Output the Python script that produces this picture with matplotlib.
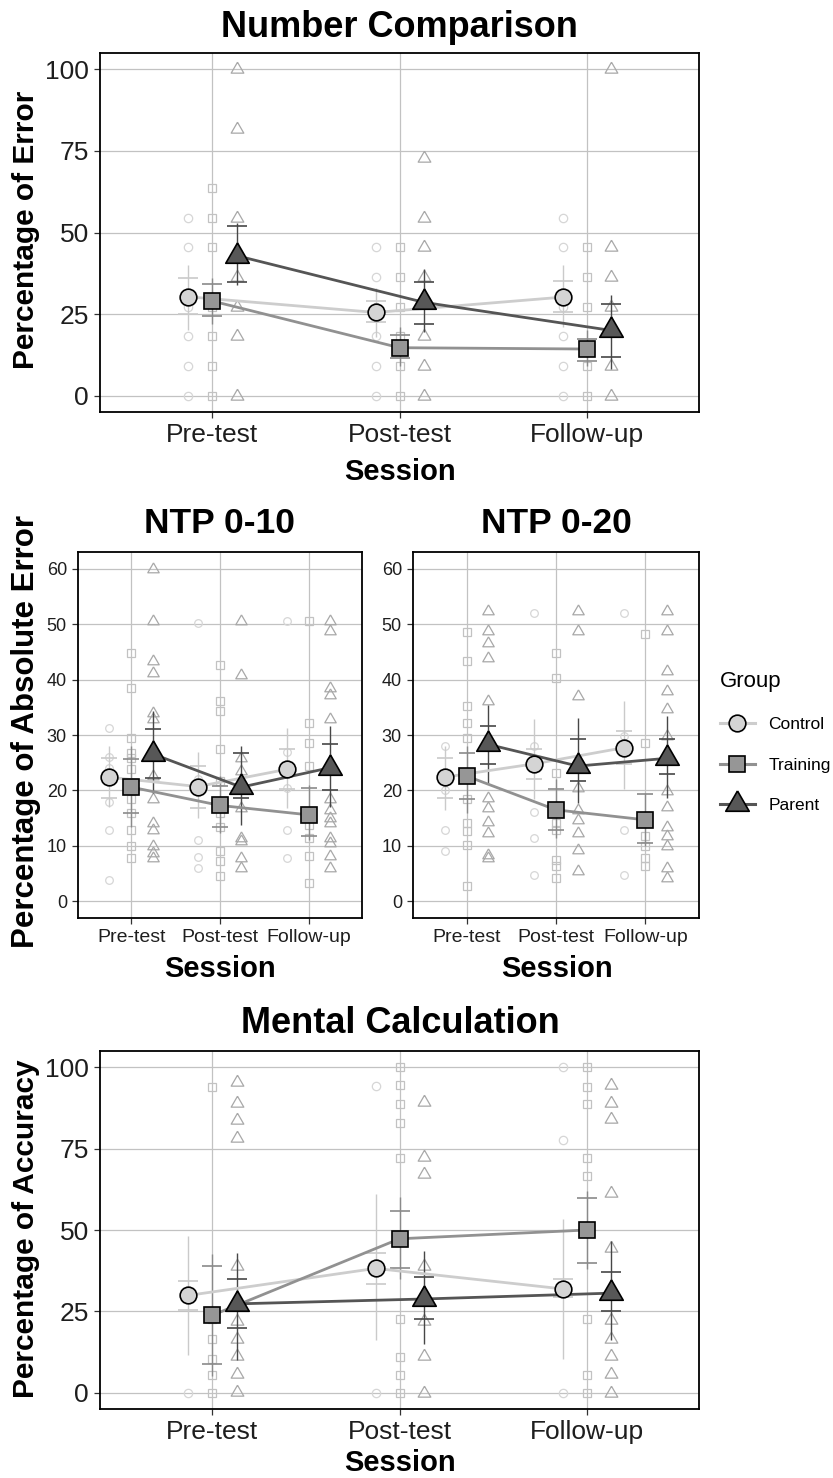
import matplotlib
matplotlib.use("Agg")
import matplotlib.pyplot as plt
from matplotlib.lines import Line2D
import numpy as np

plt.rcParams['font.family'] = ['Liberation Sans', 'DejaVu Sans']

SESSIONS = ["Pre-test", "Post-test", "Follow-up"]
GROUPS = ["Control", "Training", "Parent"]

# ---------------- Number Comparison (percentage of error) ----------------
NC_MEAN = {"Control": [30.3, 25.5, 30.2], "Training": [29.0, 14.7, 14.3], "Parent": [42.9, 28.6, 20.0]}
NC_CAP_LO = {"Control": [25.0, 22.5, 25.5], "Training": [24.5, 11.5, 10.7], "Parent": [34.7, 21.9, 11.7]}
NC_CAP_HI = {"Control": [36.0, 29.0, 35.2], "Training": [34.2, 18.5, 17.5], "Parent": [52.0, 34.9, 28.0]}
NC_BAR_LO = {"Control": [20.0, 18.0, 21.0], "Training": [22.0, 9.0, 9.0], "Parent": [34.0, 19.4, 8.2]}
NC_BAR_HI = {"Control": [40.0, 33.0, 40.0], "Training": [36.0, 21.0, 20.0], "Parent": [53.0, 38.8, 31.0]}
NC_RAW = {
    "Control": [[0, 9.1, 18.2, 27.3, 45.5, 54.5], [0, 9.1, 18.2, 27.3, 36.4, 45.5], [0, 9.1, 18.2, 27.3, 45.5, 54.5]],
    "Training": [[0, 9.1, 18.2, 27.3, 45.5, 54.5, 63.6], [0, 9.1, 18.2, 27.3, 36.4, 45.5], [0, 9.1, 27.3, 36.4, 45.5]],
    "Parent": [[0, 18.2, 27.3, 36.4, 54.5, 81.8, 100], [0, 9.1, 18.2, 36.4, 45.5, 54.5, 72.7], [0, 9.1, 27.3, 36.4, 45.5, 100]],
}

# ---------------- NTP 0-10 (percentage of absolute error) ----------------
N10_MEAN = {"Control": [22.4, 20.7, 23.8], "Training": [20.6, 17.3, 15.6], "Parent": [26.6, 20.6, 24.1]}
N10_CAP_LO = {"Control": [18.6, 16.8, 20.3], "Training": [16.0, 13.5, 11.7], "Parent": [22.3, 18.7, 20.0]}
N10_CAP_HI = {"Control": [25.9, 24.4, 27.5], "Training": [25.6, 20.8, 20.5], "Parent": [31.1, 26.8, 28.3]}
N10_BAR_LO = {"Control": [17.0, 15.0, 16.8], "Training": [13.5, 12.3, 11.0], "Parent": [19.6, 13.8, 17.1]}
N10_BAR_HI = {"Control": [28.0, 27.0, 31.3], "Training": [28.0, 22.6, 21.0], "Parent": [34.3, 28.0, 31.6]}
N10_RAW = {
    "Control": [[3.9, 12.9, 18.0, 24.0, 26.0, 31.3], [6.0, 8.0, 11.0, 22.0, 50.2], [7.8, 12.9, 20.5, 27.0, 50.5]],
    "Training": [[7.8, 9.9, 12.9, 16.0, 18.4, 23.8, 25.9, 26.8, 29.5, 38.5, 44.8],
                 [4.5, 7.2, 9.0, 13.5, 16.0, 21.7, 27.4, 34.3, 36.1, 42.7],
                 [3.3, 8.1, 11.4, 13.8, 24.4, 28.6, 32.2, 50.5]],
    "Parent": [[7.8, 8.7, 9.9, 12.9, 14.1, 18.4, 22.6, 32.8, 34.0, 41.2, 43.3, 50.5, 60.0],
               [6.0, 7.8, 10.8, 11.4, 16.8, 23.5, 25.9, 40.9, 50.5],
               [6.0, 8.1, 10.5, 11.4, 14.1, 15.0, 16.5, 18.4, 32.8, 37.3, 38.5, 48.7, 50.5]],
}

# ---------------- NTP 0-20 (percentage of absolute error) ----------------
N20_MEAN = {"Control": [22.4, 24.8, 27.7], "Training": [22.6, 16.5, 14.7], "Parent": [28.3, 24.4, 25.8]}
N20_CAP_LO = {"Control": [18.7, 22.0, 24.7], "Training": [18.4, 12.9, 10.5], "Parent": [24.7, 21.7, 23.0]}
N20_CAP_HI = {"Control": [25.9, 27.4, 30.7], "Training": [26.7, 20.2, 19.3], "Parent": [31.7, 29.3, 29.3]}
N20_BAR_LO = {"Control": [16.5, 18.4, 20.2], "Training": [16.0, 11.4, 9.9], "Parent": [21.1, 17.7, 18.7]}
N20_BAR_HI = {"Control": [28.0, 32.8, 36.1], "Training": [28.0, 22.0, 19.6], "Parent": [35.5, 33.1, 33.4]}
N20_RAW = {
    "Control": [[9.0, 12.9, 20.0, 28.0], [4.8, 11.4, 16.2, 28.0, 52.0], [4.8, 12.9, 29.8, 52.0]],
    "Training": [[2.7, 10.2, 12.6, 14.1, 18.4, 29.5, 32.2, 35.2, 43.3, 48.5],
                 [4.2, 6.3, 7.5, 12.9, 14.1, 23.2, 40.3, 44.8],
                 [6.3, 7.8, 9.9, 11.7, 14.1, 28.6, 48.2]],
    "Parent": [[7.8, 8.4, 12.3, 14.4, 16.8, 18.7, 36.1, 43.9, 46.6, 48.7, 52.3],
               [5.4, 9.3, 12.3, 14.7, 16.5, 20.5, 37.0, 48.7, 52.3],
               [4.2, 6.0, 9.9, 11.7, 13.5, 17.1, 19.9, 29.8, 34.6, 37.9, 41.5, 48.7, 52.3]],
}

# ---------------- Mental Calculation (percentage of accuracy) ----------------
MC_MEAN = {"Control": [29.9, 38.2, 31.9], "Training": [23.8, 47.3, 50.0], "Parent": [27.3, 28.8, 30.6]}
MC_CAP_LO = {"Control": [25.5, 33.4, 29.5], "Training": [8.7, 38.2, 39.9], "Parent": [20.0, 22.7, 25.1]}
MC_CAP_HI = {"Control": [34.2, 43.0, 35.0], "Training": [38.8, 55.9, 59.9], "Parent": [35.0, 35.5, 37.2]}
MC_BAR_LO = {"Control": [11.5, 16.1, 10.5], "Training": [5.0, 35.0, 38.0], "Parent": [10.0, 15.1, 16.1]}
MC_BAR_HI = {"Control": [48.2, 61.0, 53.3], "Training": [42.6, 60.0, 62.0], "Parent": [42.9, 43.6, 46.7]}
MC_RAW = {
    "Control": [[0, 30.0], [0, 94.3], [0, 77.8, 100]],
    "Training": [[0, 5.4, 10.5, 16.6, 22.7, 94.0],
                 [0, 5.4, 11.0, 22.7, 72.2, 83.0, 88.8, 94.6, 100],
                 [0, 5.4, 22.7, 66.6, 72.2, 88.8, 94.0, 100]],
    "Parent": [[0.3, 5.9, 11.2, 16.6, 22.0, 39.0, 78.3, 83.9, 89.0, 95.6],
               [0, 11.2, 22.0, 39.0, 67.2, 72.5, 89.2],
               [0, 5.9, 11.2, 16.6, 22.4, 44.6, 61.5, 84.0, 89.0, 94.6]],
}

# ---------------- styling ----------------
W, H = 833, 1478
TRI = [(0, 1), (0.866, -0.5), (-0.866, -0.5), (0, 1)]
MARK = {"Control": "o", "Training": "s", "Parent": TRI}
FILL = {"Control": "#d4d4d4", "Training": "#969696", "Parent": "#575757"}
LINE = {"Control": "#cdcdcd", "Training": "#919191", "Parent": "#555555"}
ERR = {"Control": "#cacaca", "Training": "#8a8a8a", "Parent": "#474747"}
RAW = {"Control": "#d6d6d6", "Training": "#c2c2c2", "Parent": "#a8a8a8"}
MS = {"Control": 12, "Training": 12, "Parent": 19.5}


def fx(px):
    return px / W


def fy(py):
    return 1 - py / H


def axes_rect(l, t, r, b):
    return [fx(l), fy(b), fx(r) - fx(l), fy(t) - fy(b)]


def draw_panel(ax, mean, cap_lo, cap_hi, bar_lo, bar_hi, raw, offs, ylim, yticks,
               ytick_size, xtick_size, cap_w, raw_ms):
    base = np.arange(1, len(SESSIONS) + 1)
    for g in GROUPS:
        xs = base + offs[g]
        for i in range(len(SESSIONS)):
            vals = np.asarray(raw[g][i], dtype=float)
            ax.plot(np.full(vals.size, xs[i]), vals, ls="none", marker=MARK[g],
                    mfc="none", mec=RAW[g], mew=0.9, ms=raw_ms[g], zorder=2)
    for g in GROUPS:
        xs = base + offs[g]
        m = np.asarray(mean[g])
        lo = m - np.asarray(bar_lo[g])
        hi = np.asarray(bar_hi[g]) - m
        ax.errorbar(xs, m, yerr=[lo, hi], fmt="none", ecolor=ERR[g], elinewidth=1.0,
                    capsize=0, zorder=3)
        for arr in (cap_lo[g], cap_hi[g]):
            ax.plot(xs, arr, ls="none", marker="_", ms=cap_w, mew=1.2, color=ERR[g], zorder=3)
    for g in GROUPS:
        xs = base + offs[g]
        ax.plot(xs, mean[g], color=LINE[g], lw=2.0, zorder=4, solid_capstyle="butt")
    for g in GROUPS:
        xs = base + offs[g]
        ax.plot(xs, mean[g], ls="none", marker=MARK[g], mfc=FILL[g], mec="black",
                mew=1.2, ms=MS[g], zorder=5)
    ax.set_xlim(0.4, 3.6)
    ax.set_ylim(*ylim)
    ax.set_xticks(base)
    ax.set_xticklabels(SESSIONS)
    ax.set_yticks(yticks)
    ax.grid(True, color="#c2c2c2", lw=0.9)
    ax.set_axisbelow(True)
    for s in ax.spines.values():
        s.set_color("black")
        s.set_linewidth(1.3)
    ax.tick_params(axis="both", length=4, width=0.9, color="#333333", labelcolor="#1e1e1e")
    ax.tick_params(axis="y", labelsize=ytick_size, pad=4)
    ax.tick_params(axis="x", labelsize=xtick_size, pad=4)


fig = plt.figure(figsize=(W / 100, H / 100), dpi=100)

wide_offs = {"Control": -0.128, "Training": 0.0, "Parent": 0.13}
narrow_offs_l = {"Control": -0.25, "Training": 0.0, "Parent": 0.24}
narrow_offs_r = {"Control": -0.244, "Training": 0.0, "Parent": 0.244}
wide_raw = {"Control": 6, "Training": 6, "Parent": 10.5}
narrow_raw = {"Control": 5.5, "Training": 6, "Parent": 9.5}

ax1 = fig.add_axes(axes_rect(100, 53, 699, 412))
draw_panel(ax1, NC_MEAN, NC_CAP_LO, NC_CAP_HI, NC_BAR_LO, NC_BAR_HI, NC_RAW, wide_offs,
           (-5, 105), [0, 25, 50, 75, 100], 19, 19, 14, wide_raw)

ax2 = fig.add_axes(axes_rect(78, 552, 362, 918))
draw_panel(ax2, N10_MEAN, N10_CAP_LO, N10_CAP_HI, N10_BAR_LO, N10_BAR_HI, N10_RAW, narrow_offs_l,
           (-3, 63), [0, 10, 20, 30, 40, 50, 60], 13, 14, 11, narrow_raw)

ax3 = fig.add_axes(axes_rect(413, 552, 699, 918))
draw_panel(ax3, N20_MEAN, N20_CAP_LO, N20_CAP_HI, N20_BAR_LO, N20_BAR_HI, N20_RAW, narrow_offs_r,
           (-3, 63), [0, 10, 20, 30, 40, 50, 60], 13, 14, 11, narrow_raw)

ax4 = fig.add_axes(axes_rect(100, 1051, 699, 1409))
draw_panel(ax4, MC_MEAN, MC_CAP_LO, MC_CAP_HI, MC_BAR_LO, MC_BAR_HI, MC_RAW, wide_offs,
           (-5, 105), [0, 25, 50, 75, 100], 19, 19, 14, wide_raw)

# titles
fig.text(fx(399), fy(37), "Number Comparison", ha="center", va="baseline", fontsize=26, fontweight="bold")
fig.text(fx(220), fy(533), "NTP 0-10", ha="center", va="baseline", fontsize=25.5, fontweight="bold")
fig.text(fx(556), fy(533), "NTP 0-20", ha="center", va="baseline", fontsize=25.5, fontweight="bold")
fig.text(fx(400), fy(1033), "Mental Calculation", ha="center", va="baseline", fontsize=26, fontweight="bold")

# axis labels
fig.text(fx(400), fy(480), "Session", ha="center", va="baseline", fontsize=21, fontweight="bold")
fig.text(fx(220), fy(977), "Session", ha="center", va="baseline", fontsize=21, fontweight="bold")
fig.text(fx(557), fy(977), "Session", ha="center", va="baseline", fontsize=21, fontweight="bold")
fig.text(fx(400), fy(1471), "Session", ha="center", va="baseline", fontsize=21, fontweight="bold")

fig.text(fx(26), fy(230), "Percentage of Error", rotation=90, ha="center", va="center",
         fontsize=21.5, fontweight="bold")
fig.text(fx(26), fy(731), "Percentage of Absolute Error", rotation=90, ha="center", va="center",
         fontsize=22.5, fontweight="bold")
fig.text(fx(26), fy(1229), "Percentage of Accuracy", rotation=90, ha="center", va="center",
         fontsize=21.5, fontweight="bold")

# legend
handles = [Line2D([], [], color=LINE[g], lw=2.2, marker=MARK[g], mfc=FILL[g], mec="black",
                  mew=1.2, ms=MS[g]) for g in GROUPS]
fig.legend(handles, GROUPS, title="Group", loc="center left",
           bbox_to_anchor=(fx(720), fy(742)), bbox_transform=fig.transFigure,
           frameon=False, fontsize=12.5, title_fontsize=16, handlelength=2.0,
           handletextpad=0.8, labelspacing=1.45, borderpad=0, borderaxespad=0,
           alignment="left", numpoints=1)

fig.savefig("out.png", dpi=100)
